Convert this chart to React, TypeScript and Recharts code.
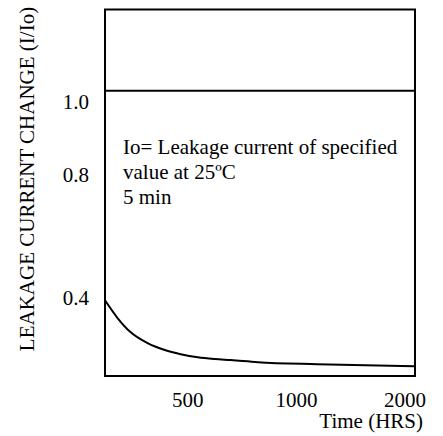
import React from 'react';
import { LineChart, Line, XAxis, YAxis, ReferenceLine, ReferenceArea } from 'recharts';

const FONT = '"Liberation Serif", "Times New Roman", serif';
const TEXT_STYLE = { fontFamily: FONT, fontSize: 21, fill: '#000' };

// curve (time axis is log)
const hours = [295, 320, 347, 387, 432, 478, 533, 594, 658, 782, 1140, 2130];
const ratio = [0.394, 0.342, 0.302, 0.27, 0.25, 0.238, 0.229, 0.224, 0.221, 0.215, 0.209, 0.203];

const xTicks = [500, 1000, 2000];
const yTicks = [0.4, 0.8, 1.0];
const xDomain = [295, 2130];
const yDomain = [0.175, 1.235];
const refLevel = 1.0;

const noteLines = ['Io= Leakage current of specified', 'value at 25ºC', '5 min'];
const yTitle = 'LEAKAGE CURRENT CHANGE (I/Io)';
const xTitle = 'Time (HRS)';

const data = hours.map((h, i) => ({ hours: h, ratio: ratio[i] }));

// printed labels sit a little below their tick values
const Y_LABEL_DY: Record<string, number> = { '1.0': 18, '0.8': 22, '0.4': 7 };

const YTick = ({ x, y, payload }: any) => {
  const label = Number(payload.value).toFixed(1);
  return (
    <text x={x} y={y} dy={Y_LABEL_DY[label] ?? 7} textAnchor="end" style={TEXT_STYLE}>
      {label}
    </text>
  );
};

const XTick = ({ x, y, payload }: any) => (
  <text x={x} y={y} dy={15} textAnchor="middle" style={TEXT_STYLE}>
    {payload.value}
  </text>
);

export default function App() {
  return (
    <div style={{ position: 'absolute', left: 0, top: 0, width: 443, height: 436, background: '#fff' }}>
      <LineChart width={443} height={436} data={data} margin={{ top: 9.5, right: 28, left: 0, bottom: 0 }}>
        <XAxis
          dataKey="hours"
          type="number"
          scale="log"
          domain={xDomain}
          allowDataOverflow
          ticks={xTicks}
          axisLine={false}
          tickLine={false}
          tickSize={0}
          tickMargin={16}
          height={60}
          tick={<XTick />}
        />
        <YAxis
          type="number"
          domain={yDomain}
          allowDataOverflow
          ticks={yTicks}
          axisLine={false}
          tickLine={false}
          tickSize={0}
          tickMargin={16}
          width={105}
          tick={<YTick />}
        />
        <ReferenceArea
          x1={xDomain[0]}
          x2={xDomain[1]}
          y1={yDomain[0]}
          y2={yDomain[1]}
          fill="none"
          stroke="#000"
          strokeWidth={2}
        />
        <ReferenceLine y={refLevel} stroke="#000" strokeWidth={2} />
        <Line
          type="monotone"
          dataKey="ratio"
          stroke="#000"
          strokeWidth={2}
          dot={false}
          isAnimationActive={false}
        />
        <text style={TEXT_STYLE}>
          {noteLines.map((t, i) => (
            <tspan key={i} x={123} y={154 + i * 25}>
              {t}
            </tspan>
          ))}
        </text>
        <text x={423} y={428} textAnchor="end" style={TEXT_STYLE}>
          {xTitle}
        </text>
        <text x={34} y={179} textAnchor="middle" transform="rotate(-90 34 179)" style={TEXT_STYLE}>
          {yTitle}
        </text>
      </LineChart>
    </div>
  );
}
